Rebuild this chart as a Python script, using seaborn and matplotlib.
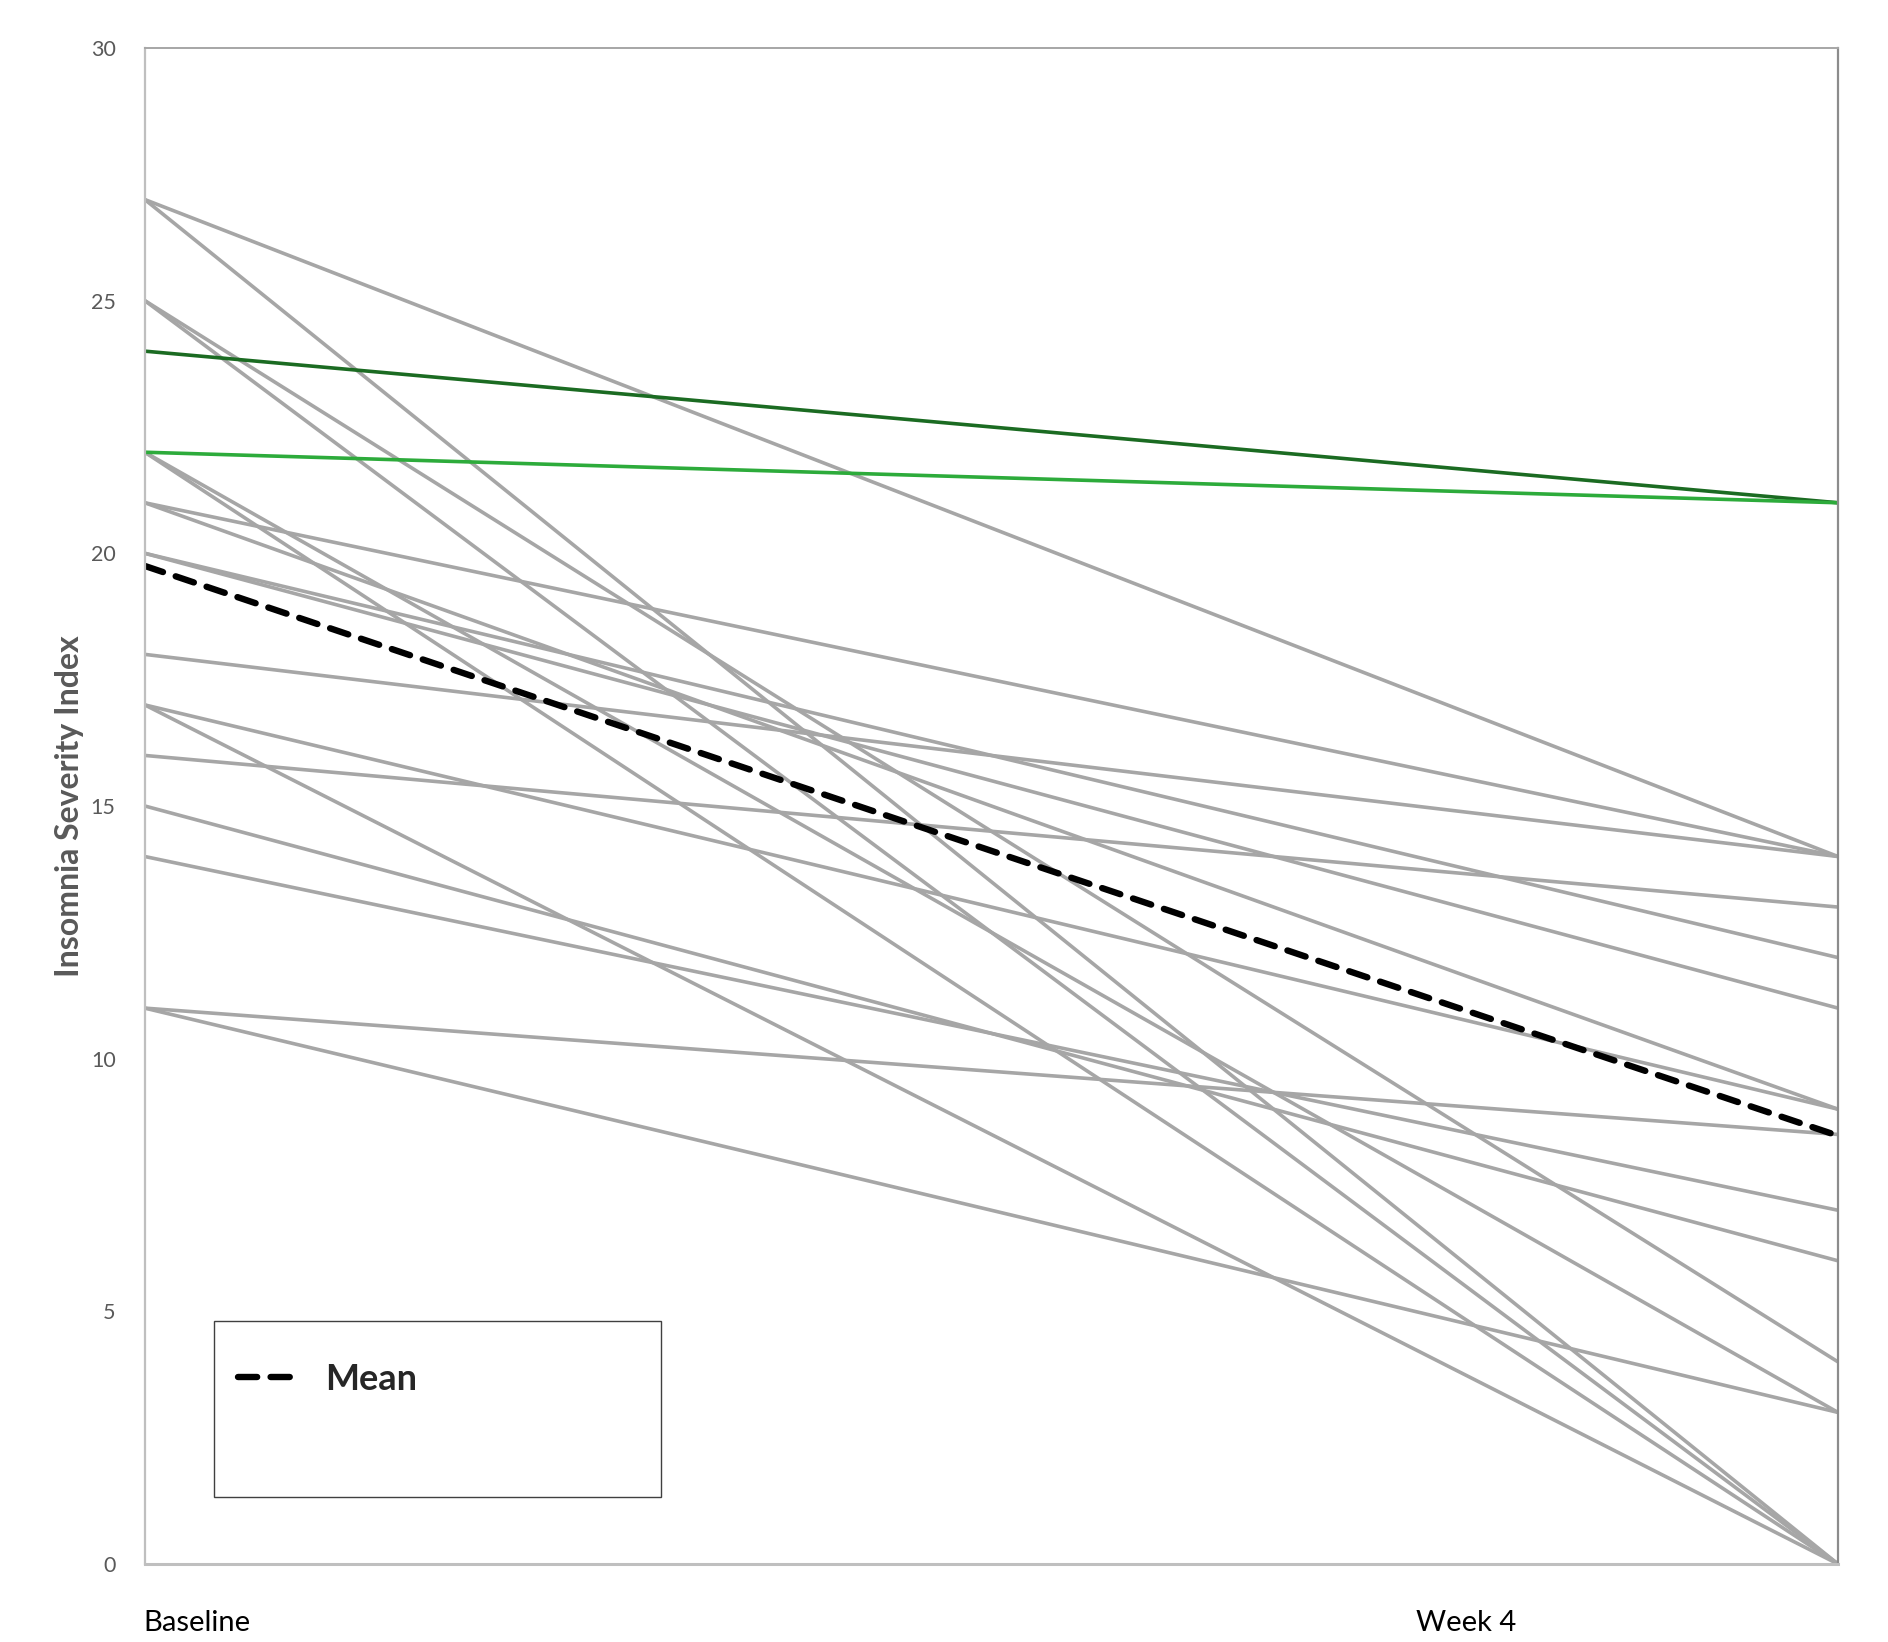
import pandas as pd
import matplotlib.pyplot as plt
import seaborn as sns
from matplotlib.patches import Rectangle

sns.set_style("white")
plt.rcParams["font.family"] = ["Lato", "DejaVu Sans"]

# ISI scores per participant
timepoints = ["Baseline", "Week 4"]
baseline = [27, 27, 25, 25, 24, 22, 22, 22, 21, 21, 20, 20, 18, 17, 17, 16, 15, 14, 11, 11]
week4 = [14, 0, 4, 0, 21, 21, 3, 0, 14, 9, 12, 11, 14, 9, 0, 13, 6, 7, 8.5, 3]
line_colors = ["#A6A6A6"] * 4 + ["#1B6B22", "#2DAB3B"] + ["#A6A6A6"] * 14
mean_scores = [19.75, 8.475]

rows = []
for i, (b, w) in enumerate(zip(baseline, week4)):
    rows.append({"subject": i, "time": 0, "score": b})
    rows.append({"subject": i, "time": 1, "score": w})
df = pd.DataFrame(rows)
palette = {i: c for i, c in enumerate(line_colors)}
# draw grey first so the green ones sit on top
order = [i for i, c in enumerate(line_colors) if c == "#A6A6A6"] + \
        [i for i, c in enumerate(line_colors) if c != "#A6A6A6"]

mean_df = pd.DataFrame({"time": [0, 1], "score": mean_scores})

fig = plt.figure(figsize=(18.88, 16.42), dpi=100)
ax = fig.add_axes([0.0767, 0.0475, 0.8968, 0.9233])

for sid in order:
    sns.lineplot(data=df[df["subject"] == sid], x="time", y="score",
                 color=palette[sid], linewidth=2.6, ax=ax, legend=False)

sns.lineplot(data=mean_df, x="time", y="score", color="black", linewidth=4.6,
             ax=ax, label="Mean", dashes=False)
mean_line = ax.lines[-1]
mean_line.set_linestyle((0, (3.0, 2.1)))
mean_line.set_dash_capstyle("round")

ax.set_xlim(0, 1)
ax.set_ylim(0, 30)
ax.set_yticks(range(0, 31, 5))
ax.set_xticks([])
ax.set_xlabel("")
ax.set_ylabel("Insomnia Severity Index", fontsize=23, fontweight="bold",
              color="#595959")
ax.yaxis.set_label_coords(-0.036, 0.5)
ax.tick_params(axis="y", labelsize=15.5, labelcolor="#595959", length=0, pad=21)

for side, col, lw in [("left", "#BFBFBF", 1.6), ("bottom", "#BFBFBF", 2.2),
                      ("right", "#8C8C8C", 1.6), ("top", "#A6A6A6", 1.4)]:
    ax.spines[side].set_color(col)
    ax.spines[side].set_linewidth(lw)
    ax.spines[side].set_visible(True)

# category labels under the plot
ax.text(-0.001, -0.039, timepoints[0], transform=ax.transAxes, fontsize=21,
        ha="left", va="center", color="black")
ax.text(0.751, -0.039, timepoints[1], transform=ax.transAxes, fontsize=21,
        ha="left", va="center", color="black")

# legend with a larger box like the original
leg = ax.legend(loc="center left", bbox_to_anchor=(0.036, 0.122), frameon=False,
                handlelength=1.6, handletextpad=0.8,
                prop={"size": 26, "weight": "bold"})
ax.add_patch(Rectangle((0.041, 0.044), 0.264, 0.116, transform=ax.transAxes,
                       fill=False, edgecolor="#404040", linewidth=1.0))

plt.savefig("out.png", dpi=100)
plt.close()
